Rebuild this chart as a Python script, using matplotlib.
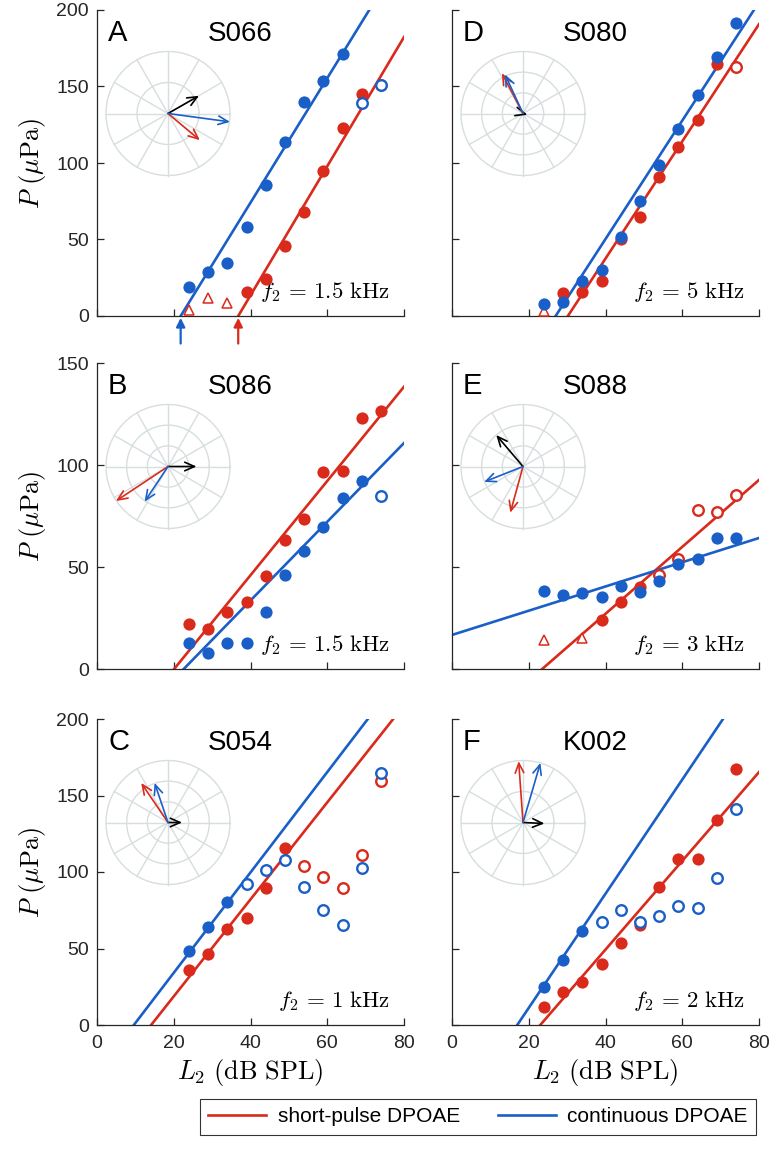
import numpy as np
import matplotlib
matplotlib.use("Agg")
import matplotlib.pyplot as plt
from matplotlib.lines import Line2D

plt.rcParams['font.family'] = ['Liberation Sans', 'DejaVu Sans']
plt.rcParams['mathtext.fontset'] = 'cm'

RED = '#d92a1c'
BLUE = '#1a5fc7'
GRID = '#d6dedf'
SPINE = '#262626'

# ---------------- data ----------------
L2 = [24, 29, 34, 39, 44, 49, 54, 59, 64, 69, 74]

panels = ['A', 'B', 'C', 'D', 'E', 'F']
subjects = ['S066', 'S086', 'S054', 'S080', 'S088', 'K002']
f2_labels = ['1.5', '1.5', '1', '5', '3', '2']
ymax = [200, 150, 200, 200, 150, 200]

# marker kinds: f = filled circle, o = open circle, t = open triangle, '' = none
A_red = [3.9, 12, 8.3, 16, 24, 45.6, 68.2, 95, 122.8, 145.4, 151]
A_red_kind = ['t', 't', 't', 'f', 'f', 'f', 'f', 'f', 'f', 'f', 'f']
A_blue = [19, 28.5, 34.6, 58, 85.5, 113.6, 140, 153.5, 171, 139.5, 151]
A_blue_kind = ['f'] * 9 + ['o', 'o']

B_red = [22.1, 19.5, 28, 33, 45.7, 63, 73.7, 96.4, 97.2, 122.8, 126.5]
B_red_kind = ['f'] * 11
B_blue = [12.7, 7.8, 12.7, 12.7, 28, 46.2, 57.7, 69.6, 83.9, 92, 85]
B_blue_kind = ['f'] * 10 + ['o']

C_red = [35.9, 46.4, 62.5, 69.7, 89.7, 115.5, 103.9, 97, 89.7, 111, 159.6]
C_red_kind = ['f'] * 6 + ['o'] * 5
C_blue = [48.4, 64.3, 80.6, 92, 101, 108, 90.2, 74.9, 65.3, 102.8, 164.4]
C_blue_kind = ['f'] * 3 + ['o'] * 8

D_red = [3.5, 14.9, 16, 22.6, 50.4, 65, 90.6, 110.7, 127.9, 165, 163]
D_red_kind = ['t'] + ['f'] * 9 + ['o']
D_blue = [7.9, 9.4, 23, 30.3, 51.8, 75.2, 98.7, 122.4, 144.3, 169, 191.4]
D_blue_kind = ['f'] * 11

E_red = [14.3, np.nan, 15.4, 24, 33, 40.3, 46.3, 53.7, 77.7, 77.2, 85.5]
E_red_kind = ['t', '', 't', 'f', 'f', 'f', 'o', 'o', 'o', 'o', 'o']
E_blue = [38.4, 36.3, 37.1, 35.4, 40.7, 37.9, 43.3, 51.7, 54.1, 64.4, 64.2]
E_blue_kind = ['f'] * 11

F_red = [11.5, 21.8, 28.3, 39.9, 53.4, 65.4, 90, 108.3, 108.3, 134, 167.2]
F_red_kind = ['f'] * 11
F_blue = [24.6, 42.5, 61.7, 67.5, 75.2, 67.5, 71.5, 78, 76.3, 96.3, 141]
F_blue_kind = ['f'] * 3 + ['o'] * 8

# fitted lines: slope (uPa/dB) and L2 intercept (dB SPL)
red_slope = [4.22, 2.31, 3.17, 3.83, 1.64, 2.90]
red_x0 = [36.8, 20.1, 14.1, 30.2, 23.5, 23.0]
blue_slope = [4.07, 1.93, 3.28, 3.87, 0.594, 3.73]
blue_x0 = [21.8, 22.6, 9.6, 27.0, -28.1, 17.0]

# threshold arrows (panel A)
A_thresh_blue = 21.8
A_thresh_red = 36.8

# phasor insets: (x, y) tips normalised to outer ring radius
vec_black = [(0.50, 0.286), (0.46, 0.0), (0.227, 0.0), (0.07, -0.02), (-0.432, 0.508), (0.346, -0.016)]
vec_blue = [(1.0, -0.135), (-0.378, -0.568), (-0.216, 0.638), (-0.29, 0.63), (-0.627, -0.249), (0.281, 0.962)]
vec_red = [(0.514, -0.43), (-0.84, -0.557), (-0.432, 0.638), (-0.34, 0.65), (-0.205, -0.746), (-0.07, 0.99)]
rings = [[0.5, 1.0], [1/3, 2/3, 1.0], [1/3, 2/3, 1.0], [1/3, 2/3, 1.0], [1/3, 2/3, 1.0], [0.5, 1.0]]

reds = [(A_red, A_red_kind), (B_red, B_red_kind), (C_red, C_red_kind),
        (D_red, D_red_kind), (E_red, E_red_kind), (F_red, F_red_kind)]
blues = [(A_blue, A_blue_kind), (B_blue, B_blue_kind), (C_blue, C_blue_kind),
         (D_blue, D_blue_kind), (E_blue, E_blue_kind), (F_blue, F_blue_kind)]

# ---------------- layout ----------------
W, H = 773, 1167
fig = plt.figure(figsize=(W / 100, H / 100), dpi=100)

col_left = [97, 452]
ax_w = 307
row_top = [10, 363, 719]
ax_h = 306


def draw_points(ax, vals, kinds, color):
    for L, v, k in zip(L2, vals, kinds):
        if k == '' or v is None or np.isnan(v):
            continue
        if k == 'f':
            ax.plot(L, v, 'o', ms=8.8, mfc=color, mec=color, mew=0, clip_on=False, zorder=4)
        elif k == 'o':
            ax.plot(L, v, 'o', ms=7.6, mfc='white', mec=color, mew=1.7, clip_on=False, zorder=4)
        elif k == 't':
            ax.plot(L, v, '^', ms=7.5, mfc='white', mec=color, mew=1.1, clip_on=False, zorder=4)


for i in range(6):
    col = i // 3
    row = i % 3
    x0 = col_left[col]
    y0 = row_top[row]
    ax = fig.add_axes([x0 / W, 1 - (y0 + ax_h) / H, ax_w / W, ax_h / H])
    ax.set_xlim(0, 80)
    ax.set_ylim(0, ymax[i])
    ax.set_xticks([0, 20, 40, 60, 80])
    ax.set_yticks(np.arange(0, ymax[i] + 1, 50))
    for s in ['top', 'right']:
        ax.spines[s].set_visible(False)
    for s in ['left', 'bottom']:
        ax.spines[s].set_color(SPINE)
        ax.spines[s].set_linewidth(0.9)
    ax.tick_params(direction='in', length=5, width=0.9, colors=SPINE, labelsize=14, pad=6)
    ax.tick_params(axis='x', pad=7)
    if row != 2:
        ax.set_xticklabels([])
    else:
        ax.set_xlabel(r'$L_2\ (\mathrm{dB\ SPL})$', fontsize=19, labelpad=4)
    if col == 1:
        ax.set_yticklabels([])
    else:
        ax.set_ylabel(r'$P\ (\mu\mathrm{Pa})$', fontsize=19, labelpad=6)

    Lgrid = np.linspace(-40, 80, 300)
    ax.plot(Lgrid, red_slope[i] * (Lgrid - red_x0[i]), color=RED, lw=1.9, zorder=2)
    ax.plot(Lgrid, blue_slope[i] * (Lgrid - blue_x0[i]), color=BLUE, lw=1.9, zorder=2)

    draw_points(ax, reds[i][0], reds[i][1], RED)
    draw_points(ax, blues[i][0], blues[i][1], BLUE)

    ax.text(11 / ax_w, 1 - 31 / ax_h, panels[i], transform=ax.transAxes,
            fontsize=21, va='baseline', ha='left', color='black')
    ax.text(0.466, 1 - 31 / ax_h, subjects[i], transform=ax.transAxes,
            fontsize=20, va='baseline', ha='center', color='black')
    ax.text(1 - 14 / ax_w, 18 / ax_h, r'$f_2\,=\,%s\ \mathrm{kHz}$' % f2_labels[i],
            transform=ax.transAxes, fontsize=16.5, va='baseline', ha='right')

    if i == 0:
        for Lt, c in [(A_thresh_blue, BLUE), (A_thresh_red, RED)]:
            ax.annotate('', xy=(Lt, -1.2), xytext=(Lt, -18),
                        arrowprops=dict(arrowstyle='-|>', color=c, lw=1.6, mutation_scale=13,
                                        shrinkA=0, shrinkB=0),
                        annotation_clip=False)

    # phasor inset
    r = 62
    cx = x0 + 71
    cy = y0 + 103.5
    iax = fig.add_axes([(cx - r) / W, 1 - (cy + r) / H, 2 * r / W, 2 * r / H])
    iax.set_xlim(-1, 1)
    iax.set_ylim(-1, 1)
    iax.axis('off')
    th = np.linspace(0, 2 * np.pi, 200)
    for rr in rings[i]:
        iax.plot(rr * np.cos(th), rr * np.sin(th), color=GRID, lw=1.0, clip_on=False)
    for a in np.arange(0, 180, 30):
        t = np.deg2rad(a)
        iax.plot([-np.cos(t), np.cos(t)], [-np.sin(t), np.sin(t)], color=GRID, lw=1.0, clip_on=False)
    for vec, c in [(vec_black[i], 'black'), (vec_red[i], RED), (vec_blue[i], BLUE)]:
        iax.annotate('', xy=vec, xytext=(0, 0),
                     arrowprops=dict(arrowstyle='->,head_length=0.5,head_width=0.22', color=c,
                                     lw=1.2, shrinkA=0, shrinkB=0, mutation_scale=14),
                     annotation_clip=False)

handles = [Line2D([], [], color=RED, lw=1.9), Line2D([], [], color=BLUE, lw=1.9)]
leg = fig.legend(handles, ['short-pulse DPOAE', 'continuous DPOAE'], loc='center',
                 bbox_to_anchor=(478 / W, 1 - 1117 / H), ncol=2, frameon=True, fancybox=False,
                 edgecolor='black', fontsize=15, handlelength=2.8, columnspacing=1.8,
                 borderpad=0.4, handletextpad=0.55)
leg.get_frame().set_linewidth(0.8)

fig.savefig('out.png', dpi=100)
